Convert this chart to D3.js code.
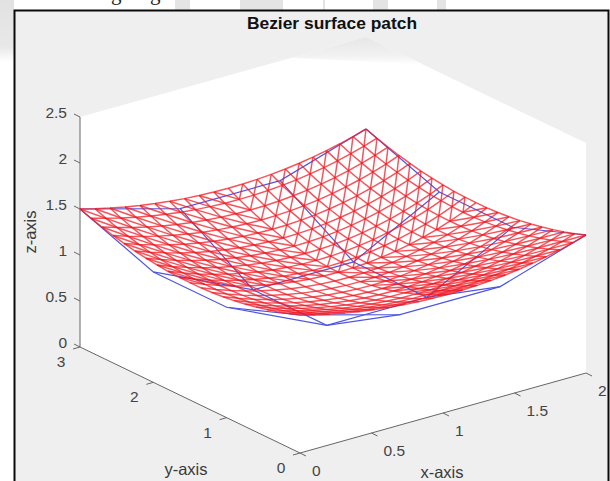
<!DOCTYPE html>
<html>
<head>
<meta charset="utf-8">
<script src="https://cdn.jsdelivr.net/npm/d3@7"></script>
<style>html,body{margin:0;padding:0;background:#fff}svg{display:block}text{font-family:"Liberation Sans",Arial,sans-serif}</style>
</head>
<body>
<div id="chart"></div>
<script>
const chartTitle = "Bezier surface patch";
const xLabel = "x-axis", yLabel = "y-axis", zLabel = "z-axis";
const xTicks = [0, 0.5, 1, 1.5, 2];
const yTicks = [0, 1, 2, 3];
const zTicks = [0, 0.5, 1, 1.5, 2, 2.5];
const controlX = [0, 0.7, 1.4, 2];
const controlY = [0, 1, 2, 3];
const controlZ = [
  [1.5, 1.2, 1.2, 1.5],
  [1.2, 0.7, 0.7, 1.2],
  [1.2, 0.7, 0.7, 1.2],
  [1.5, 1.2, 1.2, 1.5]
];
const meshSegments = 20;

const W = 610, H = 481;
const svg = d3.select("#chart").append("svg").attr("width", W).attr("height", H);
const defs = svg.append("defs");
defs.append("filter").attr("id", "soft").append("feGaussianBlur").attr("stdDeviation", 0.4);
const apexGrad = defs.append("linearGradient").attr("id", "apex").attr("x1", 0).attr("x2", 0).attr("y1", 0).attr("y2", 1);
apexGrad.append("stop").attr("offset", 0).attr("stop-color", "#e6e6e6");
apexGrad.append("stop").attr("offset", 0.7).attr("stop-color", "#f2f2f2");
apexGrad.append("stop").attr("offset", 1).attr("stop-color", "#ffffff");
const leftGrad = defs.append("linearGradient").attr("id", "leftfade").attr("x1", 0).attr("x2", 0).attr("y1", 0).attr("y2", 1);
leftGrad.append("stop").attr("offset", 0).attr("stop-color", "#e2e2e2");
leftGrad.append("stop").attr("offset", 0.75).attr("stop-color", "#e8e8e8");
leftGrad.append("stop").attr("offset", 1).attr("stop-color", "#ffffff");

// Projection built from d3 scales: each data axis adds a screen offset.
const xToPx = d3.scaleLinear().domain([0, 2]).range([0, 286]);
const xToPy = d3.scaleLinear().domain([0, 2]).range([0, -80]);
const yToPx = d3.scaleLinear().domain([0, 3]).range([0, -220]);
const yToPy = d3.scaleLinear().domain([0, 3]).range([0, -106]);
const zToPy = d3.scaleLinear().domain([0, 2.5]).range([0, -230]);
const ox = 300, oy = 453;
const project = (x, y, z) => [ox + xToPx(x) + yToPx(y), oy + xToPy(x) + yToPy(y) + zToPy(z)];
const line = d3.line();

// Scraps of the page behind the screenshot
const scraps = svg.append("g").attr("fill", "#e4e4e4");
[[175, 15], [240, 43], [323, 2], [373, 15], [437, 9]].forEach(([x, w]) =>
  scraps.append("rect").attr("x", x).attr("y", 0).attr("width", w).attr("height", 10));
svg.append("rect").attr("x", 0).attr("y", 0).attr("width", 14).attr("height", 62).attr("fill", "url(#leftfade)");
svg.append("g").attr("font-size", 21).attr("fill", "#222")
  .selectAll("text").data([[111, 0], [150, 0]]).join("text")
  .attr("x", d => d[0]).attr("y", d => d[1]).style("font-family", "Liberation Serif").text("g");

// Figure panel
svg.append("rect").attr("x", 14.5).attr("y", 10.5).attr("width", 594).attr("height", 480)
  .attr("fill", "#efefef").attr("stroke", "#0a0a0a").attr("stroke-width", 2);

// Axes box
const [xMax, yMax, zMax] = [d3.max(xTicks), d3.max(yTicks), d3.max(zTicks)];
const hexagon = [
  project(0, yMax, 0), project(0, yMax, zMax), project(xMax, yMax, zMax),
  project(xMax, 0, zMax), project(xMax, 0, 0), project(0, 0, 0)
];
svg.append("path").attr("d", line(hexagon) + "Z").attr("fill", "#fff");
const apex = project(xMax, yMax, zMax);
const apexEdgeL = d3.interpolate(apex, project(0, yMax, zMax))(0.26);
const apexEdgeR = d3.interpolate(apex, project(xMax, 0, zMax))(0.26);
svg.append("path").attr("d", line([apex, apexEdgeR, apexEdgeL]) + "Z").attr("fill", "url(#apex)");

const axes = svg.append("g").attr("stroke", "#666").attr("fill", "none").attr("stroke-width", 1);
axes.append("path").attr("d", line([project(0, yMax, zMax), project(0, yMax, 0), project(0, 0, 0), project(xMax, 0, 0)]));
axes.selectAll(".zt").data(zTicks).join("path").attr("class", "zt").attr("d", d => {
  const p = project(0, yMax, d); return line([p, [p[0] - 6, p[1] - 3]]);
});
axes.selectAll(".xt").data(xTicks).join("path").attr("class", "xt").attr("d", d => {
  const p = project(d, 0, 0); return line([p, [p[0] + 6, p[1] + 3]]);
});
axes.selectAll(".yt").data(yTicks).join("path").attr("class", "yt").attr("d", d => {
  const p = project(0, d, 0); return line([p, [p[0] - 7, p[1] + 2]]);
});

// Blue control net
const net = svg.append("g").attr("fill", "none").attr("stroke", "#3c44dc").attr("stroke-width", 1.2).attr("opacity", 0.9).attr("filter", "url(#soft)");
controlX.forEach((x, i) => net.append("path").attr("d", line(controlY.map((y, j) => project(x, y, controlZ[i][j])))));
controlY.forEach((y, j) => net.append("path").attr("d", line(controlX.map((x, i) => project(x, y, controlZ[i][j])))));

// Red Bezier surface mesh evaluated from the control net
const bern = t => [(1 - t) ** 3, 3 * t * (1 - t) ** 2, 3 * t * t * (1 - t), t ** 3];
const surface = (u, v) => {
  const bu = bern(u), bv = bern(v);
  let x = 0, y = 0, z = 0;
  bu.forEach((a, i) => bv.forEach((b, j) => {
    x += a * b * controlX[i]; y += a * b * controlY[j]; z += a * b * controlZ[i][j];
  }));
  return project(x, y, z);
};
const steps = d3.range(meshSegments + 1);
const toT = d3.scaleLinear().domain([0, meshSegments]).range([0, 1]);
const mesh = svg.append("g").attr("fill", "none").attr("stroke", "#f01a24").attr("stroke-width", 1.45).attr("stroke-opacity", 0.75).attr("filter", "url(#soft)");
steps.forEach(a => {
  mesh.append("path").attr("d", line(steps.map(b => surface(toT(a), toT(b)))));
  mesh.append("path").attr("d", line(steps.map(b => surface(toT(b), toT(a)))));
});
// Cell diagonals differ by quadrant of the patch; the front quadrant has none.
const half = meshSegments / 2;
steps.slice(0, -1).forEach(a => steps.slice(0, -1).forEach(b => {
  const highU = a >= half, highV = b >= half;
  if (highU && highV) {
    mesh.append("path").attr("d", line([surface(toT(a), toT(b)), surface(toT(a + 1), toT(b + 1))]));
  } else if (highU !== highV) {
    mesh.append("path").attr("d", line([surface(toT(a + 1), toT(b)), surface(toT(a), toT(b + 1))]));
  }
}));

// Tick labels
const labels = svg.append("g").attr("font-size", 15.5).attr("fill", "#444");
labels.selectAll(".zl").data(zTicks).join("text").attr("class", "zl")
  .attr("x", d => project(0, yMax, d)[0] - 13).attr("y", d => project(0, yMax, d)[1] - 3)
  .attr("text-anchor", "end").attr("dominant-baseline", "middle").text(d => d);
labels.selectAll(".xl").data(xTicks).join("text").attr("class", "xl")
  .attr("x", d => project(d, 0, 0)[0] + 12).attr("y", d => project(d, 0, 0)[1] + 19)
  .attr("dominant-baseline", "middle").text(d => d);
labels.selectAll(".yl").data(yTicks).join("text").attr("class", "yl")
  .attr("x", d => project(0, d, 0)[0] - 19).attr("y", d => project(0, d, 0)[1] + 16)
  .attr("text-anchor", "middle").attr("dominant-baseline", "middle").text(d => d);

const axisText = svg.append("g").attr("font-size", 16.5).attr("fill", "#3a3a3a").attr("text-anchor", "middle");
axisText.append("text").attr("x", 442).attr("y", 478).text(xLabel);
axisText.append("text").attr("x", 186).attr("y", 475).text(yLabel);
axisText.append("text").attr("transform", "translate(36,232) rotate(-90)").text(zLabel);

svg.append("text").attr("x", 332).attr("y", 29).attr("text-anchor", "middle")
  .attr("font-size", 17.4).attr("font-weight", "bold").attr("fill", "#111").text(chartTitle);
</script>
</body>
</html>
